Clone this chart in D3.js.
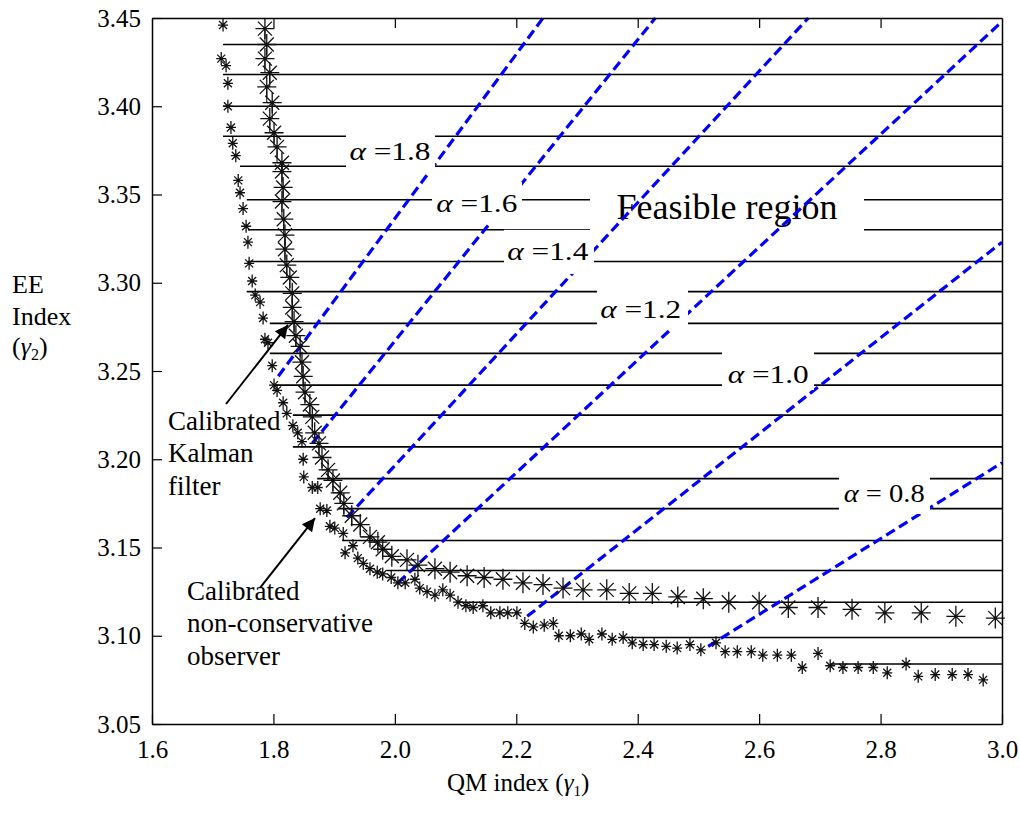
<!DOCTYPE html>
<html>
<head>
<meta charset="utf-8">
<script src="https://cdnjs.cloudflare.com/ajax/libs/d3/7.8.5/d3.min.js"></script>
<style>
  body { margin: 0; background: #fff; }
  text { font-family: "Liberation Serif", "Times New Roman", serif; fill: #000; }
</style>
</head>
<body>
<svg id="chart" width="1020" height="816"></svg>
<script>
// ---- data ----
const xTicks = [1.6, 1.8, 2.0, 2.2, 2.4, 2.6, 2.8, 3.0];
const yTicks = [3.05, 3.10, 3.15, 3.20, 3.25, 3.30, 3.35, 3.40, 3.45];

// calibrated Kalman filter (large asterisks)
const kalmanX = [1.786,1.789,1.786,1.794,1.789,1.798,1.794,1.801,1.806,1.814,1.814,1.816,1.814,1.817,1.819,1.819,
  1.822,1.827,1.831,1.831,1.834,1.837,1.844,1.847,1.849,1.852,1.860,1.864,1.868,1.875,1.880,1.890,1.898,1.910,
  1.916,1.929,1.943,1.959,1.972,1.980,1.995,2.020,2.038,2.066,2.091,2.119,2.147,2.178,2.211,2.244,2.277,2.310,
  2.349,2.386,2.424,2.466,2.508,2.550,2.600,2.648,2.697,2.753,2.807,2.867,2.924,2.989];
const kalmanY = [3.444,3.435,3.427,3.419,3.411,3.402,3.393,3.385,3.377,3.368,3.363,3.354,3.346,3.336,3.327,3.319,
  3.310,3.303,3.294,3.286,3.278,3.270,3.264,3.255,3.247,3.238,3.231,3.224,3.215,3.209,3.201,3.194,3.188,3.181,
  3.175,3.168,3.163,3.156,3.153,3.149,3.145,3.143,3.140,3.138,3.136,3.134,3.133,3.132,3.130,3.129,3.127,3.126,
  3.126,3.124,3.124,3.122,3.121,3.119,3.119,3.116,3.116,3.115,3.113,3.113,3.111,3.110];
const kalmanSteps = 42; // points joined by the thin stair line

// calibrated non-conservative observer (small asterisks)
const observerX = [1.717,1.714,1.722,1.725,1.725,1.730,1.733,1.738,1.742,1.745,1.750,1.755,1.758,1.760,1.765,1.770,
  1.778,1.783,1.786,1.791,1.798,1.801,1.806,1.816,1.822,1.832,1.840,1.847,1.849,1.850,1.864,1.873,1.877,1.888,
  1.893,1.901,1.915,1.918,1.931,1.939,1.948,1.959,1.971,1.980,1.994,2.005,2.017,2.033,2.041,2.053,2.066,2.079,
  2.091,2.104,2.117,2.129,2.145,2.158,2.173,2.186,2.201,2.214,2.228,2.246,2.261,2.270,2.289,2.307,2.320,2.341,
  2.358,2.376,2.391,2.409,2.427,2.447,2.465,2.486,2.504,2.529,2.544,2.564,2.587,2.606,2.630,2.653,2.671,2.697,
  2.717,2.738,2.763,2.788,2.811,2.842,2.862,2.890,2.918,2.944,2.969];
const observerY = [3.446,3.427,3.423,3.413,3.400,3.388,3.379,3.372,3.358,3.351,3.342,3.332,3.323,3.311,3.301,3.293,
  3.289,3.280,3.268,3.266,3.253,3.242,3.239,3.232,3.226,3.219,3.215,3.210,3.200,3.190,3.184,3.184,3.172,3.171,
  3.162,3.161,3.158,3.147,3.151,3.144,3.141,3.138,3.136,3.135,3.133,3.130,3.130,3.132,3.127,3.125,3.123,3.126,
  3.123,3.119,3.117,3.116,3.117,3.113,3.113,3.113,3.113,3.107,3.105,3.106,3.107,3.100,3.100,3.101,3.098,3.101,
  3.098,3.099,3.096,3.095,3.095,3.094,3.093,3.095,3.092,3.096,3.091,3.091,3.091,3.089,3.089,3.089,3.082,3.090,
  3.083,3.082,3.082,3.082,3.079,3.084,3.077,3.078,3.078,3.078,3.075];

// hatching of the feasible region: level and left end of each line
const hatchY = [3.435,3.418,3.400,3.383,3.366,3.347,3.330,3.312,3.295,3.277,3.260,3.242,3.225,3.207,3.189,3.172,
  3.154,3.137,3.119,3.099,3.084];
const hatchStart = [1.717,1.717,1.717,1.717,1.745,1.756,1.758,1.758,1.756,1.794,1.794,1.799,1.832,1.832,1.872,1.906,
  1.913,1.987,2.104,2.382,2.717];

// alpha lines (blue dashed)
const alphaNames = ["1.8", "1.6", "1.4", "1.2", "1.0", "0.8"];
const alphaX1 = [1.808, 1.864, 1.921, 2.005, 2.218, 2.516];
const alphaY1 = [3.247, 3.209, 3.167, 3.130, 3.111, 3.094];
const alphaX2 = [2.244, 2.429, 2.681, 3.000, 3.000, 3.000];
const alphaY2 = [3.450, 3.450, 3.450, 3.448, 3.323, 3.198];

// label places (data units): centre x, baseline y, white box x0,x1,y0,y1
const alphaLabelX = [1.992, 2.135, 2.252, 2.405, 2.615, 2.806];
const alphaLabelY = [3.3695, 3.3401, 3.3129, 3.2800, 3.2432, 3.1758];
const alphaBoxes = [
  [1.9195, 2.0661, 3.3843, 3.3627],
  [2.0612, 2.2094, 3.3571, 3.3333],
  [2.1798, 2.3280, 3.3300, 3.3050],
  [2.3329, 2.4828, 3.2965, 3.2732],
  [2.5388, 2.6904, 3.2613, 3.2392],
  [2.7315, 2.8814, 3.1911, 3.1690]
];

// ---- layout ----
const W = 1020, H = 816;
const plot = {left: 152, right: 1002, top: 18, bottom: 724};
const svg = d3.select("#chart");
svg.append("rect").attr("width", W).attr("height", H).attr("fill", "#fff");

const x = d3.scaleLinear().domain([1.6, 3.0]).range([plot.left, plot.right]);
const y = d3.scaleLinear().domain([3.05, 3.45]).range([plot.bottom, plot.top]);

const g = svg.append("g");

// hatching lines
g.append("g").selectAll("line")
  .data(hatchY)
  .enter().append("line")
  .attr("x1", (d, i) => x(hatchStart[i]))
  .attr("x2", x(3.0))
  .attr("y1", d => y(d))
  .attr("y2", d => y(d))
  .attr("stroke", "#000")
  .attr("stroke-width", 1.6);

// "Feasible region" with its white box (blue lines go over it)
g.append("rect")
  .attr("x", x(2.3214)).attr("width", x(2.7727) - x(2.3214))
  .attr("y", y(3.3548)).attr("height", y(3.3282) - y(3.3548))
  .attr("fill", "#fff");
g.append("text")
  .attr("x", x(2.5471)).attr("y", y(3.3361))
  .attr("text-anchor", "middle")
  .attr("font-size", 36)
  .text("Feasible region");

// alpha lines
g.append("g").selectAll("line")
  .data(alphaNames)
  .enter().append("line")
  .attr("x1", (d, i) => x(alphaX1[i]))
  .attr("y1", (d, i) => y(alphaY1[i]))
  .attr("x2", (d, i) => x(alphaX2[i]))
  .attr("y2", (d, i) => y(alphaY2[i]))
  .attr("stroke", "#0000ff")
  .attr("stroke-width", 3.2)
  .attr("stroke-dasharray", "10,5");

// alpha labels on white boxes
alphaNames.forEach(function (name, i) {
  const b = alphaBoxes[i];
  g.append("rect")
    .attr("x", x(b[0])).attr("width", x(b[1]) - x(b[0]))
    .attr("y", y(b[2])).attr("height", y(b[3]) - y(b[2]))
    .attr("fill", "#fff");
  const lg = g.append("g");
  const t = lg.append("text").attr("font-size", 26);
  t.append("tspan").attr("font-style", "italic").text("α");
  t.append("tspan").text(name === "0.8" ? " = " + name : " =" + name);
  const w = t.node().getComputedTextLength();
  const target = 81;
  lg.attr("transform", "translate(" + (x(alphaLabelX[i]) - target / 2) + "," + y(alphaLabelY[i]) + ") scale(" + (target / w) + ",1)");
});

// asterisk marker
function star(r, h, d) {
  return "M0," + (-r) + "V" + r + "M" + (-h) + ",0H" + h +
    "M" + (-d) + "," + (-d) + "L" + d + "," + d + "M" + (-d) + "," + d + "L" + d + "," + (-d);
}

// Kalman stair line
const kalmanPts = kalmanX.map((d, i) => [d, kalmanY[i]]);
g.append("path")
  .datum(kalmanPts.slice(0, kalmanSteps))
  .attr("d", d3.line().x(d => x(d[0])).y(d => y(d[1])).curve(d3.curveStepBefore))
  .attr("fill", "none")
  .attr("stroke", "#000")
  .attr("stroke-width", 1);

g.append("g").selectAll("path")
  .data(kalmanPts)
  .enter().append("path")
  .attr("transform", d => "translate(" + x(d[0]) + "," + y(d[1]) + ")")
  .attr("d", star(10.5, 9.5, 7))
  .attr("fill", "none")
  .attr("stroke", "#111")
  .attr("stroke-width", 1.3);

const observerPts = observerX.map((d, i) => [d, observerY[i]]);
g.append("g").selectAll("path")
  .data(observerPts)
  .enter().append("path")
  .attr("transform", d => "translate(" + x(d[0]) + "," + y(d[1]) + ")")
  .attr("d", star(6.5, 5, 4))
  .attr("fill", "none")
  .attr("stroke", "#111")
  .attr("stroke-width", 1.3);

// arrows
const defs = svg.append("defs");
defs.append("marker")
  .attr("id", "head")
  .attr("viewBox", "0 0 10 10")
  .attr("refX", 10).attr("refY", 5)
  .attr("markerWidth", 18).attr("markerHeight", 13)
  .attr("markerUnits", "userSpaceOnUse")
  .attr("orient", "auto")
  .append("path").attr("d", "M0,0L10,5L0,10Z").attr("fill", "#000");

const arrows = [
  [1.7219, 3.2313, 1.8240, 3.2761],
  [1.7779, 3.1271, 1.8685, 3.1667]
];
g.append("g").selectAll("line")
  .data(arrows)
  .enter().append("line")
  .attr("x1", d => x(d[0])).attr("y1", d => y(d[1]))
  .attr("x2", d => x(d[2])).attr("y2", d => y(d[3]))
  .attr("stroke", "#000")
  .attr("stroke-width", 2)
  .attr("marker-end", "url(#head)");

// annotation texts
const notes = [
  {x: 1.6264, y: [3.2166, 3.1984, 3.1797], lines: ["Calibrated", "Kalman", "filter"]},
  {x: 1.6576, y: [3.1203, 3.1022, 3.0834], lines: ["Calibrated", "non-conservative", "observer"]}
];
notes.forEach(function (n) {
  n.lines.forEach(function (s, i) {
    g.append("text")
      .attr("x", x(n.x)).attr("y", y(n.y[i]))
      .attr("font-size", 27)
      .text(s);
  });
});

// axes
const axB = g.append("g")
  .attr("transform", "translate(0," + plot.bottom + ")")
  .call(d3.axisBottom(x).tickValues(xTicks).tickFormat(d3.format(".1f")).tickSizeInner(-10).tickSizeOuter(0).tickPadding(16));
const axT = g.append("g")
  .attr("transform", "translate(0," + plot.top + ")")
  .call(d3.axisTop(x).tickValues(xTicks.slice(1, -1)).tickFormat("").tickSizeInner(-10).tickSizeOuter(0));
const axL = g.append("g")
  .attr("transform", "translate(" + plot.left + ",0)")
  .call(d3.axisLeft(y).tickValues(yTicks).tickFormat(d3.format(".2f")).tickSizeInner(-10).tickSizeOuter(0).tickPadding(11));
const axR = g.append("g")
  .attr("transform", "translate(" + plot.right + ",0)")
  .call(d3.axisRight(y).tickValues([]).tickSizeOuter(0));

[axB, axT, axL, axR].forEach(function (a) {
  a.select(".domain").attr("stroke", "#000").attr("stroke-width", 1.5);
  a.selectAll(".tick line").attr("stroke", "#000").attr("stroke-width", 1.2);
  a.selectAll(".tick text")
    .attr("font-family", "Liberation Serif, Times New Roman, serif")
    .attr("font-size", 25)
    .attr("fill", "#000");
});

// axis titles
const xt = svg.append("text")
  .attr("x", 447).attr("y", 791)
  .attr("font-size", 25);
xt.append("tspan").text("QM index (");
xt.append("tspan").attr("font-style", "italic").text("γ");
xt.append("tspan").attr("font-size", 15).attr("dy", 5).text("1");
xt.append("tspan").attr("dy", -5).text(")");

const yt = svg.append("g").attr("font-size", 26);
yt.append("text").attr("x", 12).attr("y", 293).text("EE");
yt.append("text").attr("x", 12).attr("y", 325).text("Index");
const yt3 = yt.append("text").attr("x", 12).attr("y", 355);
yt3.append("tspan").text("(");
yt3.append("tspan").attr("font-style", "italic").text("γ");
yt3.append("tspan").attr("font-size", 16).attr("dy", 5).text("2");
yt3.append("tspan").attr("dy", -5).text(")");
</script>
</body>
</html>
